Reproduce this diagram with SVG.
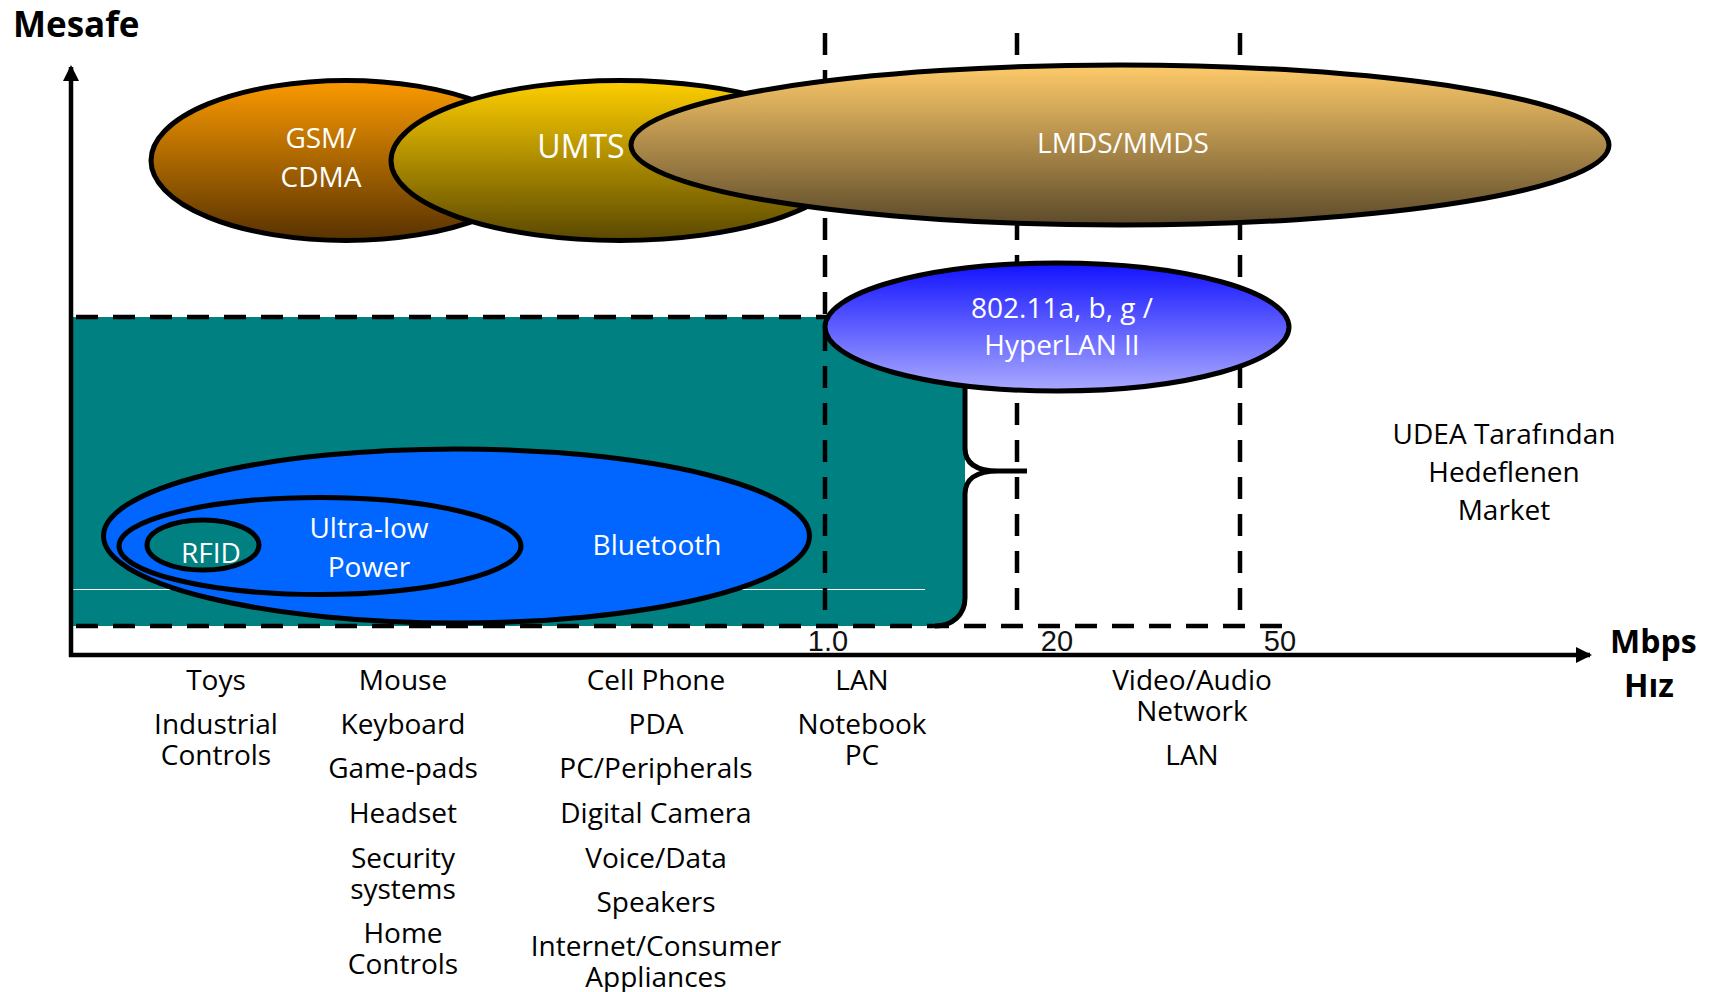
<svg xmlns="http://www.w3.org/2000/svg" width="1712" height="992" viewBox="0 0 1712 992">
  <defs>
    <linearGradient id="gGsm" x1="0" y1="0" x2="0" y2="1">
      <stop offset="0" stop-color="#fb9a00"/>
      <stop offset="1" stop-color="#583200"/>
    </linearGradient>
    <linearGradient id="gUmts" x1="0" y1="0" x2="0" y2="1">
      <stop offset="0" stop-color="#ffcf00"/>
      <stop offset="1" stop-color="#5a4800"/>
    </linearGradient>
    <linearGradient id="gLmds" x1="0" y1="0" x2="0" y2="1">
      <stop offset="0" stop-color="#ffcb6a"/>
      <stop offset="1" stop-color="#5c4a2a"/>
    </linearGradient>
    <linearGradient id="gWlan" x1="0" y1="0" x2="0" y2="1">
      <stop offset="0" stop-color="#1212ff"/>
      <stop offset="1" stop-color="#aaaaff"/>
    </linearGradient>
    <marker id="arrow" viewBox="0 0 16 16" markerWidth="16" markerHeight="16" refX="14" refY="8" orient="auto" markerUnits="userSpaceOnUse">
      <path d="M0,0 L16,8 L0,16 Z" fill="#000"/>
    </marker>
    <style>
      .lbl { font-family: "Open Sans", "Liberation Sans", sans-serif; font-size: 28px; fill: #000; text-anchor: middle; }
      .in { font-family: "Open Sans", "Liberation Sans", sans-serif; font-size: 28px; fill: #fff; text-anchor: middle; }
      .axt { font-family: "Open Sans", "Liberation Sans", sans-serif; font-size: 32px; font-weight: bold; fill: #000; }
      .tick { font-family: "Liberation Sans", Arial, sans-serif; font-size: 29px; fill: #111; text-anchor: middle; }
      .ell { stroke: #000; stroke-width: 5; }
      .dash { stroke: #000; stroke-width: 4.5; stroke-dasharray: 22 15; fill: none; }
    </style>
  </defs>

  <rect width="1712" height="992" fill="#fff"/>

  <!-- target market zone -->
  <g id="market-zone">
    <path d="M71,317 H965 V598 C965,615 952,626 935,626 H71 Z" fill="#008080"/>
    <line x1="71" y1="589.5" x2="925" y2="589.5" stroke="#fff" stroke-width="1.2"/>
  </g>

  <!-- dashed guide lines -->
  <g id="guides">
    <line class="dash" x1="76" y1="317" x2="1292" y2="317"/>
    <line class="dash" x1="76" y1="626" x2="1292" y2="626"/>
    <line class="dash" x1="825" y1="33" x2="825" y2="626"/>
    <line class="dash" x1="1017" y1="33" x2="1017" y2="626"/>
    <line class="dash" x1="1240" y1="33" x2="1240" y2="626"/>
  </g>

  <!-- brace closing the zone -->
  <g id="brace">
    <path d="M965,388 V448 C965,463 975,471 998,471 H1027 M998,471 C975,471 965,480 965,494 V598 C965,615 952,626 935,626" fill="none" stroke="#000" stroke-width="5"/>
  </g>

  <g id="gsm">
    <ellipse class="ell" cx="346" cy="160.5" rx="195" ry="80" fill="url(#gGsm)"/>
    <text class="in" x="321" y="148">GSM/</text>
    <text class="in" x="321" y="187">CDMA</text>
  </g>

  <g id="umts">
    <ellipse class="ell" cx="620" cy="160.5" rx="229" ry="80" fill="url(#gUmts)"/>
    <text class="in" x="581" y="158" style="font-size:32px">UMTS</text>
  </g>

  <g id="lmds">
    <ellipse class="ell" cx="1120" cy="145" rx="489" ry="80" fill="url(#gLmds)"/>
    <text class="in" x="1123" y="153">LMDS/MMDS</text>
  </g>

  <g id="wlan">
    <ellipse class="ell" cx="1057" cy="327" rx="232" ry="64" fill="url(#gWlan)"/>
    <text class="in" x="1062" y="318">802.11a, b, g /</text>
    <text class="in" x="1062" y="355">HyperLAN II</text>
  </g>

  <g id="bluetooth">
    <ellipse class="ell" cx="456.5" cy="536" rx="353" ry="87" fill="#0066ff"/>
    <text class="in" x="657" y="555">Bluetooth</text>
  </g>

  <g id="ultra-low-power">
    <ellipse class="ell" cx="320" cy="546" rx="201" ry="48.5" fill="#0066ff"/>
    <text class="in" x="369" y="538">Ultra-low</text>
    <text class="in" x="369" y="577">Power</text>
  </g>

  <g id="rfid">
    <ellipse class="ell" cx="203" cy="545" rx="56" ry="25" fill="#008080"/>
    <text class="in" x="211" y="563">RFID</text>
  </g>

  <!-- axes -->
  <g id="axes">
    <line x1="71" y1="657" x2="71" y2="67" stroke="#000" stroke-width="4.5" marker-end="url(#arrow)"/>
    <line x1="69" y1="655" x2="1590" y2="655" stroke="#000" stroke-width="4.5" marker-end="url(#arrow)"/>
  </g>

  <g id="axis-titles">
    <text class="axt" x="13" y="37" style="font-size:35px">Mesafe</text>
    <text class="axt" x="1610" y="653">Mbps</text>
    <text class="axt" x="1649" y="697" text-anchor="middle">Hız</text>
  </g>

  <g id="ticks">
    <text class="tick" x="828" y="651">1.0</text>
    <text class="tick" x="1057" y="651">20</text>
    <text class="tick" x="1280" y="651">50</text>
  </g>

  <g id="market-note">
    <text class="lbl" x="1504" y="444">UDEA Tarafından</text>
    <text class="lbl" x="1504" y="482">Hedeflenen</text>
    <text class="lbl" x="1504" y="520">Market</text>
  </g>

  <g id="apps-col1">
    <text class="lbl" x="216" y="690">Toys</text>
    <text class="lbl" x="216" y="734">Industrial</text>
    <text class="lbl" x="216" y="765">Controls</text>
  </g>

  <g id="apps-col2">
    <text class="lbl" x="403" y="690">Mouse</text>
    <text class="lbl" x="403" y="734">Keyboard</text>
    <text class="lbl" x="403" y="778">Game-pads</text>
    <text class="lbl" x="403" y="823">Headset</text>
    <text class="lbl" x="403" y="868">Security</text>
    <text class="lbl" x="403" y="899">systems</text>
    <text class="lbl" x="403" y="943">Home</text>
    <text class="lbl" x="403" y="974">Controls</text>
  </g>

  <g id="apps-col3">
    <text class="lbl" x="656" y="690">Cell Phone</text>
    <text class="lbl" x="656" y="734">PDA</text>
    <text class="lbl" x="656" y="778">PC/Peripherals</text>
    <text class="lbl" x="656" y="823">Digital Camera</text>
    <text class="lbl" x="656" y="868">Voice/Data</text>
    <text class="lbl" x="656" y="912">Speakers</text>
    <text class="lbl" x="656" y="956">Internet/Consumer</text>
    <text class="lbl" x="656" y="987">Appliances</text>
  </g>

  <g id="apps-col4">
    <text class="lbl" x="862" y="690">LAN</text>
    <text class="lbl" x="862" y="734">Notebook</text>
    <text class="lbl" x="862" y="765">PC</text>
  </g>

  <g id="apps-col5">
    <text class="lbl" x="1192" y="690">Video/Audio</text>
    <text class="lbl" x="1192" y="721">Network</text>
    <text class="lbl" x="1192" y="765">LAN</text>
  </g>
</svg>
